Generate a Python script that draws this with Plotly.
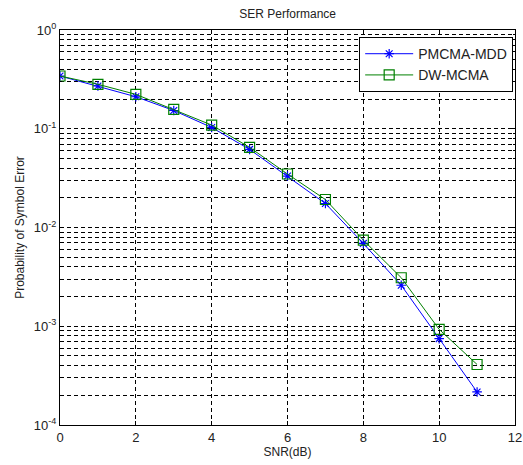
import plotly.graph_objects as go

snr = [0, 1, 2, 3, 4, 5, 6, 7, 8, 9, 10, 11]
pmcma_mdd = [0.342, 0.271, 0.211, 0.153, 0.103, 0.0618, 0.0332, 0.0175, 0.0069, 0.0026, 0.00075, 0.000216]
dw_mcma = [0.342, 0.282, 0.223, 0.157, 0.109, 0.0648, 0.0348, 0.0192, 0.00745, 0.0031, 0.00093, 0.00041]

y_major = [1e-4, 1e-3, 1e-2, 1e-1, 1]
y_major_text = ["10<sup>-4</sup>", "10<sup>-3</sup>", "10<sup>-2</sup>", "10<sup>-1</sup>", "10<sup>0</sup>"]
y_minor = [m * d for d in [1e-4, 1e-3, 1e-2, 1e-1] for m in range(2, 10)]
x_ticks = [0, 2, 4, 6, 8, 10, 12]

font = "Liberation Sans, Arial, sans-serif"
txt = "#222222"
grid_dash = "4px,3px"

fig = go.Figure()
fig.add_trace(go.Scatter(
    x=snr, y=pmcma_mdd, name="PMCMA-MDD", mode="lines+markers",
    line=dict(color="#0000FF", width=1),
    marker=dict(symbol="asterisk-open", size=8, color="#0000FF", line=dict(width=1.2, color="#0000FF")),
))
fig.add_trace(go.Scatter(
    x=snr, y=dw_mcma, name="DW-MCMA", mode="lines+markers",
    line=dict(color="#008000", width=1),
    marker=dict(symbol="square-open", size=10, color="#008000", line=dict(width=1.2, color="#008000")),
))

fig.update_layout(
    width=523, height=465,
    margin=dict(l=60, r=8, t=30, b=40),
    paper_bgcolor="white", plot_bgcolor="white",
    font=dict(family=font, size=13, color=txt),
    title=dict(text="SER Performance", x=0.55, xanchor="center", y=0.97, yanchor="middle",
               font=dict(family=font, size=12, color=txt)),
    showlegend=True,
    legend=dict(x=0.996, y=0.982, xanchor="right", yanchor="top",
                bgcolor="white", bordercolor="black", borderwidth=1,
                font=dict(family=font, size=14, color=txt),
                itemwidth=48, tracegroupgap=2),
)
fig.update_xaxes(
    range=[0, 12], tickvals=x_ticks, ticks="inside", ticklen=4, tickcolor="black",
    tickfont=dict(family=font, size=13, color=txt),
    showline=True, linecolor="black", linewidth=1, mirror="ticks",
    showgrid=True, gridcolor="black", griddash=grid_dash, gridwidth=1,
    zeroline=False, automargin=False,
    title=dict(text="SNR(dB)", standoff=4, font=dict(family=font, size=12, color=txt)),
)
fig.update_yaxes(
    type="log", range=[-4, 0], tickvals=y_major, ticktext=y_major_text,
    ticks="inside", ticklen=4, tickcolor="black",
    tickfont=dict(family=font, size=13, color=txt),
    showline=True, linecolor="black", linewidth=1, mirror="ticks",
    showgrid=True, gridcolor="black", griddash=grid_dash, gridwidth=1,
    minor=dict(tickvals=y_minor, ticks="inside", ticklen=2, tickcolor="black",
               showgrid=True, gridcolor="black", griddash=grid_dash, gridwidth=1),
    zeroline=False, automargin=False,
    title=dict(text="Probability of Symbol Error", standoff=6, font=dict(family=font, size=12, color=txt)),
)

fig.write_html("out.html", config={"displayModeBar": False},
               post_script="document.body.style.margin='0';document.body.style.overflow='hidden';")
